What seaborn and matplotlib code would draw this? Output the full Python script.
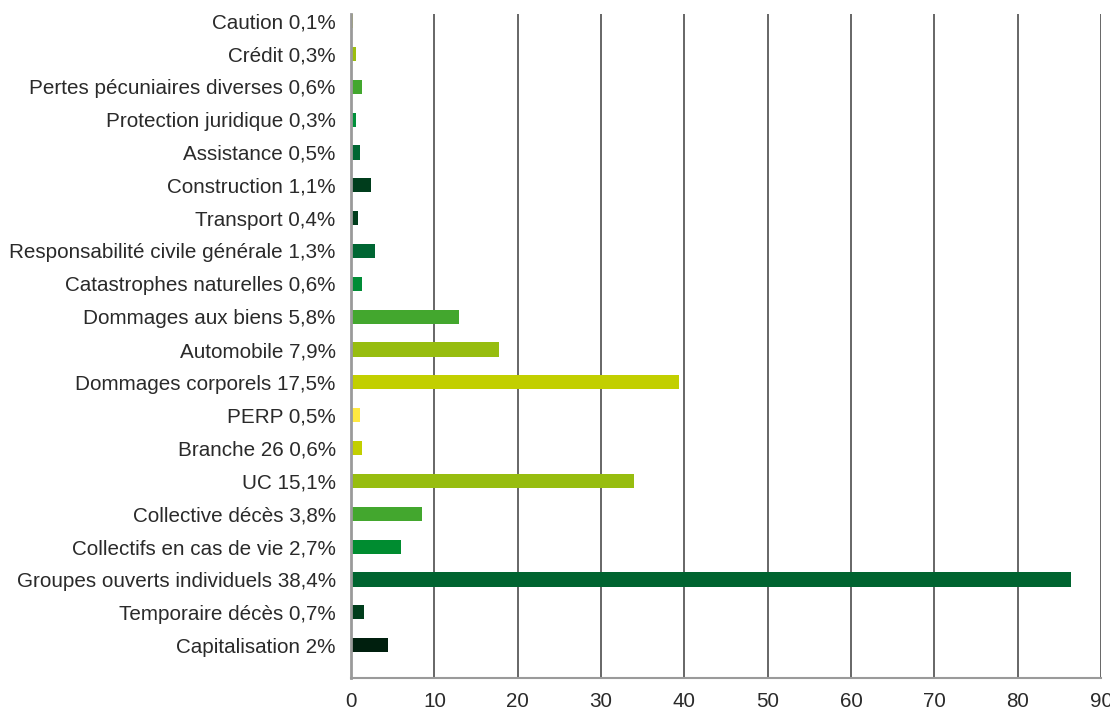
import matplotlib
matplotlib.use("Agg")
import matplotlib.pyplot as plt
import seaborn as sns
import pandas as pd

# Lines of business, top to bottom, with their share of premiums
categories = [
    "Caution 0,1%",
    "Crédit 0,3%",
    "Pertes pécuniaires diverses 0,6%",
    "Protection juridique 0,3%",
    "Assistance 0,5%",
    "Construction 1,1%",
    "Transport 0,4%",
    "Responsabilité civile générale 1,3%",
    "Catastrophes naturelles 0,6%",
    "Dommages aux biens 5,8%",
    "Automobile 7,9%",
    "Dommages corporels 17,5%",
    "PERP 0,5%",
    "Branche 26 0,6%",
    "UC 15,1%",
    "Collective décès 3,8%",
    "Collectifs en cas de vie 2,7%",
    "Groupes ouverts individuels 38,4%",
    "Temporaire décès 0,7%",
    "Capitalisation 2%",
]

# Premium amounts (bn €)
values = [
    0.2, 0.65, 1.35, 0.65, 1.1, 2.45, 0.85, 2.85, 1.35, 13.0,
    17.8, 39.4, 1.1, 1.35, 34.0, 8.5, 6.0, 86.4, 1.55, 4.45,
]

bar_colors = [
    "#c8d400", "#9bbe0e", "#43a72e", "#00903a", "#006633",
    "#003d1c", "#003d1c", "#006633", "#008c36", "#43a72e",
    "#97bd0f", "#c2cf00", "#ffe941", "#c2cf00", "#97bd0f",
    "#43a72e", "#008c30", "#006430", "#003d1c", "#001f0e",
]

x_ticks = [0, 10, 20, 30, 40, 50, 60, 70, 80, 90]

df = pd.DataFrame({"category": categories, "value": values})

sns.set_theme(style="white")
plt.rcParams["font.family"] = ["Liberation Sans", "DejaVu Sans"]

fig = plt.figure(figsize=(11.1, 7.16), dpi=100)
ax = fig.add_axes([351 / 1110, 1 - 678 / 716, 750 / 1110, 664 / 716])

sns.barplot(
    data=df, y="category", x="value", hue="category",
    palette=bar_colors, legend=False, orient="h",
    width=0.43, saturation=1, linewidth=0, ax=ax, zorder=2,
)

ax.set_xlim(0, 90)
# category 0 at top; leave a full slot of room below the last bar
ax.set_ylim(len(categories), -0.215)
ax.set_xticks(x_ticks)
ax.set_xticklabels([str(t) for t in x_ticks])
ax.set_xlabel("")
ax.set_ylabel("")

for t in x_ticks[1:]:
    ax.axvline(t, color="#5a5a5a", lw=1.3, zorder=0)

for side in ["top", "right"]:
    ax.spines[side].set_visible(False)
ax.spines["left"].set_color("#9a9a9a")
ax.spines["left"].set_linewidth(2.0)
ax.spines["bottom"].set_color("#9a9a9a")
ax.spines["bottom"].set_linewidth(1.5)
ax.spines["left"].set_zorder(3)

ax.tick_params(axis="y", length=0, pad=11, labelsize=14.9, labelcolor="#2a2a2a")
ax.tick_params(axis="x", length=0, pad=10, labelsize=14.9, labelcolor="#2a2a2a")

fig.savefig("out.png", dpi=100)
